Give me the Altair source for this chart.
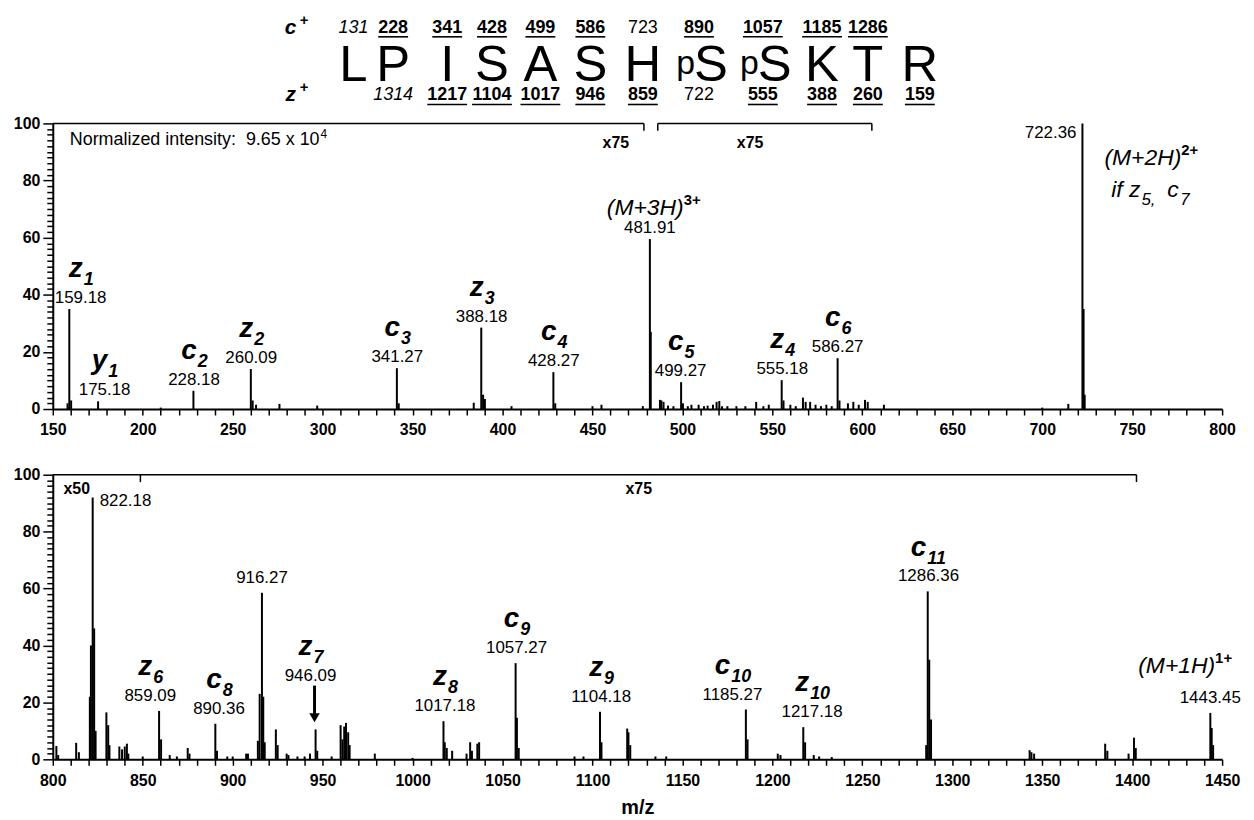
import altair as alt
import pandas as pd

FONT = "Liberation Sans"
W, H_TOP, H_BOT = 1175, 287, 286
XD_TOP, XD_BOT = [150, 800], [800, 1450]
PX_PER_MZ = W / (XD_TOP[1] - XD_TOP[0])

# ---------------- spectrum data (m/z, relative intensity %) ----------------
top_mz = [158.2, 159.18, 160.2, 175.18, 210.0, 228.18, 260.09, 261.1, 263.0, 276.0, 297.0,
          341.27, 342.3, 384.0, 388.18, 389.2, 390.2, 405.0, 428.27, 429.3, 450.0, 455.0,
          478.0, 481.91, 482.4, 487.5, 488.3, 489.5, 492.0, 495.0, 499.27, 500.3, 503.0,
          505.0, 509.0, 512.0, 514.0, 517.0, 519.0, 520.5, 522.0, 525.0, 530.0, 535.0,
          541.0, 545.0, 548.0, 555.18, 556.2, 560.0, 563.0, 567.0, 568.5, 571.0, 574.0,
          577.0, 580.0, 583.0, 586.27, 587.3, 592.0, 595.0, 598.0, 601.5, 603.0, 612.0,
          700.0, 714.5, 722.36, 723.0, 723.6]
top_int = [2.0, 35.0, 3.0, 2.7, 0.5, 6.4, 14.0, 3.0, 1.5, 1.8, 1.2,
           14.3, 2.0, 2.2, 28.5, 5.0, 3.5, 1.0, 12.9, 2.0, 1.0, 1.5,
           1.0, 59.5, 27.0, 3.2, 3.0, 2.5, 1.2, 1.0, 9.4, 2.0, 1.0,
           1.5, 1.5, 1.0, 1.2, 1.5, 2.5, 2.8, 1.0, 1.0, 1.0, 1.0,
           2.5, 1.0, 1.5, 10.1, 3.0, 1.5, 1.0, 4.0, 2.5, 2.5, 1.5,
           1.0, 1.5, 1.0, 17.8, 3.0, 2.0, 2.5, 1.5, 3.2, 2.5, 1.5,
           0.5, 1.8, 100.0, 35.0, 5.0]

bot_mz = [802.0, 803.0, 813.0, 814.5, 820.6, 821.2, 822.18, 823.0, 823.8, 829.8, 830.8,
          831.5, 837.0, 838.5, 840.0, 841.2, 842.0, 850.0, 859.09, 860.2, 865.0, 869.0,
          875.0, 876.0, 890.36, 891.3, 897.0, 900.0, 907.5, 908.5, 914.0, 915.0, 916.27,
          917.0, 917.8, 924.0, 925.0, 930.0, 931.0, 936.0, 940.0, 943.0, 946.09, 947.0,
          955.0, 960.0, 961.0, 962.0, 963.0, 964.2, 965.0, 979.0, 1000.0, 1017.18, 1017.9,
          1019.0, 1022.0, 1030.0, 1032.0, 1033.0, 1036.0, 1037.0, 1057.27, 1058.0, 1059.0,
          1090.0, 1095.0, 1104.18, 1105.0, 1119.3, 1120.0, 1121.0, 1135.0, 1141.0, 1185.27,
          1186.2, 1203.0, 1204.5, 1217.18, 1218.2, 1223.0, 1226.0, 1233.0, 1285.5, 1286.36,
          1287.2, 1288.2, 1343.0, 1344.0, 1345.5, 1385.0, 1386.2, 1398.0, 1401.0, 1402.0,
          1443.45, 1444.2, 1445.0]
bot_int = [4.7, 1.5, 5.8, 2.5, 22.0, 40.0, 92.0, 46.0, 10.0, 16.5, 12.0,
           5.0, 4.5, 3.5, 4.5, 5.5, 2.0, 1.0, 17.0, 7.0, 1.5, 1.0,
           4.0, 2.0, 12.5, 3.0, 1.0, 1.0, 2.0, 2.0, 6.5, 23.0, 58.5,
           22.0, 6.0, 10.5, 5.0, 2.0, 1.5, 1.0, 1.0, 2.0, 10.5, 3.0,
           1.0, 12.0, 7.0, 11.5, 12.8, 9.5, 5.0, 2.0, 0.5, 13.4, 6.0,
           4.0, 3.0, 2.0, 6.0, 3.0, 5.5, 6.0, 33.8, 14.6, 4.0,
           1.0, 1.0, 16.7, 6.0, 10.8, 9.5, 5.0, 1.0, 1.0, 17.5,
           7.0, 2.0, 1.5, 11.3, 6.0, 1.5, 1.0, 0.8, 5.0, 59.0,
           35.0, 14.0, 3.2, 2.5, 2.0, 5.5, 3.0, 2.0, 7.6, 4.0,
           16.3, 11.0, 5.0]

# ---------------- peak annotations ----------------
# label x (m/z), label anchor height (%), m/z text, ion letter, ion index
top_lbl_x = [165.5, 178.8, 228.5, 260.3, 341.5, 388.4, 428.5, 481.91, 499.0, 555.5, 586.3]
top_lbl_y = [35.0, 2.7, 6.4, 14.0, 14.3, 28.5, 12.9, 59.5, 9.4, 10.1, 17.8]
top_lbl_txt = ["159.18", "175.18", "228.18", "260.09", "341.27", "388.18", "428.27",
               "481.91", "499.27", "555.18", "586.27"]
top_ion = ["z", "y", "c", "z", "c", "z", "c", "", "c", "z", "c"]
top_ion_idx = ["1", "1", "2", "2", "3", "3", "4", "", "5", "4", "6"]

bot_lbl_x = [854.2, 892.4, 916.3, 943.3, 1018.0, 1057.8, 1104.8, 1177.8, 1222.1, 1286.8, 1443.4]
bot_lbl_y = [17.0, 12.5, 58.5, 24.0, 13.4, 33.8, 16.7, 17.5, 11.3, 59.0, 16.3]
bot_lbl_txt = ["859.09", "890.36", "916.27", "946.09", "1017.18", "1057.27", "1104.18",
               "1185.27", "1217.18", "1286.36", "1443.45"]
bot_ion = ["z", "c", "", "z", "z", "c", "z", "c", "z", "c", ""]
bot_ion_idx = ["6", "8", "", "7", "8", "9", "9", "10", "10", "11", ""]

# precursor labels: text, superscript, anchor m/z, anchor height
top_prec = ["(M+3H)", "(M+2H)"]
top_prec_sup = ["3+", "2+"]
top_prec_x = [500.7, 777.3]
top_prec_y = [68.1, 85.4]
bot_prec = ["(M+1H)"]
bot_prec_sup = ["1+"]
bot_prec_x = [1446.1]
bot_prec_y = [30.4]

# magnification brackets
top_brk_from = [150.0, 486.3]
top_brk_to = [478.6, 605.3]
top_brk_ticks = [478.6, 486.3, 605.3]
top_brk_lbl = ["x75", "x75"]
top_brk_lbl_x = [463.0, 537.6]
bot_brk_from = [800.0]
bot_brk_to = [1402.4]
bot_brk_ticks = [848.7, 1402.4]
bot_brk_lbl = ["x50", "x75"]
bot_brk_lbl_x = [813.3, 1125.7]

# ---------------- peptide sequence ----------------
residues = ["L", "P", "I", "S", "A", "S", "H", "pS", "pS", "K", "T", "R"]
residue_pos = [0.0, 0.77, 1.82, 2.69, 3.63, 4.60, 5.62, 6.94, 8.18, 9.10, 9.99, 11.0]
c_ions = ["131", "228", "341", "428", "499", "586", "723", "890", "1057", "1185", "1286"]
c_status = ["calc", "obs", "obs", "obs", "obs", "obs", "plain", "obs", "obs", "obs", "obs"]
z_ions = ["1314", "1217", "1104", "1017", "946", "859", "722", "555", "388", "260", "159"]
z_status = ["calc", "obs", "obs", "obs", "obs", "obs", "plain", "obs", "obs", "obs", "obs"]

SLOT_DOMAIN = [-5.84, 16.87]
SLOT_PX = W / (SLOT_DOMAIN[1] - SLOT_DOMAIN[0])

NUM_SIZE, ION_SIZE, SUB_SIZE = 17, 28, 18
HDR_NUM = 18
PEAK_W = 2.0


# ---------------- helpers ----------------
def x_axis(domain, title=None):
    lo, hi = domain
    kw = dict(values=list(range(lo, hi + 1, 10)),
              labelExpr="datum.value % 50 === 0 ? datum.label : ''",
              format="d", tickSize=6, labelPadding=7, labelOverlap=False,
              labelFlush=False)
    if title:
        kw.update(title=title, titlePadding=9)
    else:
        kw.update(title=None)
    return alt.Axis(**kw)


Y_AXIS = alt.Axis(values=list(range(0, 101, 2)),
                  labelExpr="datum.value % 20 === 0 ? datum.label : ''",
                  tickSize={"condition": {"test": "datum.value % 20 === 0", "value": 10}, "value": 6},
                  format="d", labelPadding=3, labelOverlap=False, title=None)


class Panel:
    def __init__(self, domain, title=None):
        self.xs = alt.Scale(domain=domain, nice=False, zero=False)
        self.ys = alt.Scale(domain=[0, 100], nice=False, zero=False)
        self.xa = x_axis(domain, title)

    def X(self, f="x"):
        return alt.X(f"{f}:Q", scale=self.xs, axis=self.xa)

    def Y(self, f="y"):
        return alt.Y(f"{f}:Q", scale=self.ys, axis=Y_AXIS)

    def text(self, df, **mk):
        base = dict(font=FONT, color="black")
        base.update(mk)
        return alt.Chart(df).mark_text(**base).encode(x=self.X(), y=self.Y(), text="text:N")


def ion_junction(lx, letter, idx):
    w_l = (0.5 if letter == "z" else 0.556) * ION_SIZE
    w_s = 0.556 * SUB_SIZE * len(idx)
    return lx + (w_l - w_s) / 2 / PX_PER_MZ


def spectrum_layers(p, mz, inten, lx, ly, ltxt, ion, idx, num_dy, ion_dy, sub_dy,
                    prec, prec_sup, prec_x, prec_y, b_from, b_to, b_ticks, b_lbl, b_lbl_x, b_lbl_y):
    peaks = pd.DataFrame({"x": mz, "y": inten, "base": 0.0})
    layers = [alt.Chart(peaks).mark_rule(color="black", strokeWidth=PEAK_W).encode(
        x=p.X(), y=p.Y(), y2=alt.Y2("base"))]

    nums = pd.DataFrame({"x": lx, "y": ly, "text": ltxt})
    layers.append(p.text(nums, fontSize=NUM_SIZE, align="center", baseline="middle", dy=num_dy))

    ions = pd.DataFrame({"x": lx, "y": ly, "letter": ion, "idx": idx})
    ions = ions[ions["letter"] != ""].copy()
    ions["x"] = [ion_junction(a, b, c) for a, b, c in zip(ions["x"], ions["letter"], ions["idx"])]
    lett = ions.assign(text=ions["letter"])
    subs = ions.assign(text=ions["idx"])
    layers.append(p.text(lett, fontSize=ION_SIZE, fontWeight="bold", fontStyle="italic",
                         align="right", baseline="alphabetic", dy=ion_dy))
    layers.append(p.text(subs, fontSize=SUB_SIZE, fontWeight="bold", fontStyle="italic",
                         align="left", baseline="alphabetic", dy=sub_dy, dx=1))

    pm = pd.DataFrame({"x": prec_x, "y": prec_y, "text": prec})
    ps = pd.DataFrame({"x": prec_x, "y": prec_y, "text": prec_sup})
    layers.append(p.text(pm, fontSize=23, fontStyle="italic", align="right", baseline="alphabetic"))
    layers.append(p.text(ps, fontSize=15, fontWeight="bold", align="left", baseline="alphabetic", dy=-10))

    bh = pd.DataFrame({"x": b_from, "x2": b_to, "y": 100.0})
    layers.append(alt.Chart(bh).mark_rule(color="black", strokeWidth=1.5).encode(
        x=p.X(), x2=alt.X2("x2"), y=p.Y()))
    bt = pd.DataFrame({"x": b_ticks, "y": 100.0, "y2": 97.4})
    layers.append(alt.Chart(bt).mark_rule(color="black", strokeWidth=1.5).encode(
        x=p.X(), y=p.Y(), y2=alt.Y2("y2")))
    bl = pd.DataFrame({"x": b_lbl_x, "y": b_lbl_y, "text": b_lbl})
    layers.append(p.text(bl, fontSize=16, fontWeight="bold", align="center", baseline="middle"))
    return layers


# ---------------- top panel ----------------
pt = Panel(XD_TOP)
top_layers = spectrum_layers(pt, top_mz, top_int, top_lbl_x, top_lbl_y, top_lbl_txt, top_ion, top_ion_idx,
                             -11, -32, -24, top_prec, top_prec_sup, top_prec_x, top_prec_y,
                             top_brk_from, top_brk_to, top_brk_ticks, top_brk_lbl, top_brk_lbl_x, [93.0, 93.0])
top_layers.append(pt.text(pd.DataFrame({"x": [722.36], "y": [100.0], "text": ["722.36"]}),
                          fontSize=NUM_SIZE, align="right", baseline="middle", dx=-6, dy=10))
# normalization note (main text ends where the exponent begins)
norm = pd.DataFrame({"x": [298.3], "y": [94.1]})
top_layers.append(pt.text(norm.assign(text="Normalized intensity:\u00a0 9.65 x 10"),
                          fontSize=18, align="right", baseline="middle"))
top_layers.append(pt.text(norm.assign(text="4"), fontSize=12, align="left", baseline="middle", dx=1, dy=-6))
# "if z5, c7"
ifz = pd.DataFrame({"x": [754.6], "y": [74.2]})
top_layers.append(pt.text(ifz.assign(text="if z"), fontSize=23, fontStyle="italic", align="right", baseline="alphabetic"))
top_layers.append(pt.text(ifz.assign(text="5,"), fontSize=17, fontStyle="italic", align="left", baseline="alphabetic", dx=1, dy=8))
top_layers.append(pt.text(ifz.assign(text="c"), fontSize=23, fontStyle="italic", align="left", baseline="alphabetic", dx=27))
top_layers.append(pt.text(ifz.assign(text="7"), fontSize=17, fontStyle="italic", align="left", baseline="alphabetic", dx=40, dy=8))

spec_top = alt.layer(*top_layers)

# ---------------- sequence header (own x scale in residue slots) ----------------
hx = alt.Scale(domain=SLOT_DOMAIN, nice=False, zero=False)


def HX(f="x"):
    return alt.X(f"{f}:Q", scale=hx, axis=None)


phos = [r.startswith("p") for r in residues]
letters = pd.DataFrame({"x": residue_pos, "text": [r[-1] for r in residues]})
pdf = pd.DataFrame({"x": [x - 0.49 for x, ph in zip(residue_pos, phos) if ph], "text": "p"})
lab_pos = [x - (0.23 if ph else 0.0) for x, ph in zip(residue_pos, phos)]
cdf = pd.DataFrame({"x": lab_pos[0:11], "text": c_ions, "status": c_status})
zdf = pd.DataFrame({"x": lab_pos[1:12], "text": z_ions, "status": z_status})
half = 0.556 * HDR_NUM / SLOT_PX / 2


def hdr_text(df, y, **mk):
    base = dict(font=FONT, color="black", align="center", baseline="middle")
    base.update(mk)
    return alt.Chart(df).mark_text(**base).encode(x=HX(), y=alt.value(y), text="text:N")


def underline(df, y):
    d = df[df["status"] == "obs"].copy()
    d["x2"] = d["x"] + d["text"].str.len() * half
    d["x"] = d["x"] - d["text"].str.len() * half
    return alt.Chart(d).mark_rule(color="black", strokeWidth=1.6).encode(x=HX(), x2=alt.X2("x2"), y=alt.value(y))


hdr_layers = [
    hdr_text(letters, -43, fontSize=51, baseline="alphabetic"),
    hdr_text(pdf, -50, fontSize=34, baseline="alphabetic"),
]
for df, y, uy in [(cdf, -96, -87), (zdf, -29, -19)]:
    hdr_layers.append(hdr_text(df[df["status"] == "obs"], y, fontSize=HDR_NUM, fontWeight="bold"))
    hdr_layers.append(hdr_text(df[df["status"] == "calc"], y, fontSize=HDR_NUM, fontStyle="italic"))
    hdr_layers.append(hdr_text(df[df["status"] == "plain"], y, fontSize=HDR_NUM))
    hdr_layers.append(underline(df, uy))
ion_types = pd.DataFrame({"x": [-1.22], "text": ["c"]})
hdr_layers.append(hdr_text(ion_types, -96, fontSize=21, fontWeight="bold", fontStyle="italic"))
hdr_layers.append(hdr_text(ion_types.assign(x=-0.96, text="+"), -104, fontSize=15, fontWeight="bold"))
hdr_layers.append(hdr_text(ion_types.assign(text="z"), -29, fontSize=21, fontWeight="bold", fontStyle="italic"))
hdr_layers.append(hdr_text(ion_types.assign(x=-0.96, text="+"), -37, fontSize=15, fontWeight="bold"))

header = alt.layer(*hdr_layers)

top = alt.layer(spec_top, header).resolve_scale(x="independent").properties(width=W, height=H_TOP)

# ---------------- bottom panel ----------------
pb = Panel(XD_BOT, title="m/z")
bot_layers = spectrum_layers(pb, bot_mz, bot_int, bot_lbl_x, bot_lbl_y, bot_lbl_txt, bot_ion, bot_ion_idx,
                             -15, -36, -28, bot_prec, bot_prec_sup, bot_prec_x, bot_prec_y,
                             bot_brk_from, bot_brk_to, bot_brk_ticks, bot_brk_lbl, bot_brk_lbl_x, [94.8, 94.8])
bot_layers.append(pb.text(pd.DataFrame({"x": [822.18], "y": [92.0], "text": ["822.18"]}),
                          fontSize=NUM_SIZE, align="left", baseline="middle", dx=7, dy=4))
# arrow pointing to z7
arrow = pd.DataFrame({"x": [945.5], "y": [25.9], "y2": [16.0]})
bot_layers.append(alt.Chart(arrow).mark_rule(color="black", strokeWidth=3).encode(
    x=pb.X(), y=pb.Y(), y2=alt.Y2("y2")))
bot_layers.append(alt.Chart(arrow.assign(y=14.6)).mark_point(
    shape="triangle-down", filled=True, color="black", size=110, opacity=1).encode(x=pb.X(), y=pb.Y()))

bottom = alt.layer(*bot_layers).properties(width=W, height=H_BOT)

chart = (
    alt.vconcat(top, bottom, spacing=66, bounds="flush")
    .properties(padding={"left": 5, "right": 5, "top": 3, "bottom": 0})
    .configure(font=FONT)
    .configure_view(stroke=None)
    .configure_axis(domainColor="black", domainWidth=2, tickColor="black", tickWidth=1.5,
                    labelColor="black", labelFont=FONT, labelFontSize=16, labelFontWeight="bold",
                    titleFont=FONT, titleFontSize=20, titleFontWeight="bold", titleColor="black",
                    grid=False)
)

chart.save("out.html", embed_options={"renderer": "svg", "actions": False})
